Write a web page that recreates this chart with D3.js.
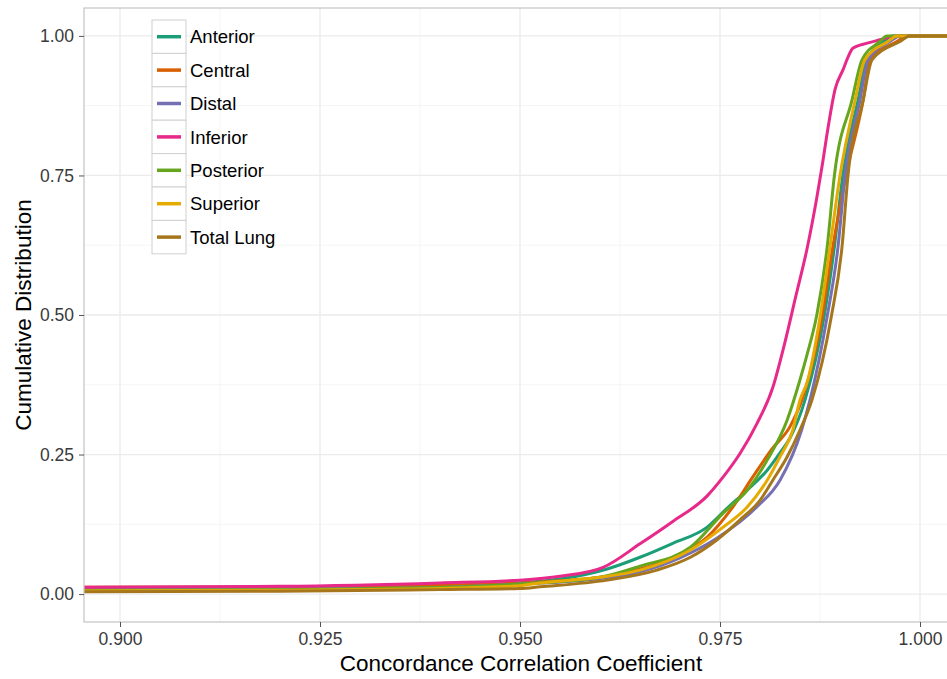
<!DOCTYPE html>
<html>
<head>
<meta charset="utf-8">
<script src="https://cdn.jsdelivr.net/npm/d3@7"></script>
<style>
body { margin: 0; background: #fff; }
text { font-family: "Liberation Sans", Arial, sans-serif; }
</style>
</head>
<body>
<div id="chart"></div>
<script>
const width = 947, height = 679;

// ECDF curves: [ccc, cumulative share]
const anterior = [[0.89,0.008],[0.92,0.01],[0.94,0.014],[0.95,0.02],[0.955,0.027],[0.9609,0.045],[0.965,0.066],[0.9691,0.091],[0.9734,0.12],[0.9759,0.154],[0.9784,0.186],[0.9809,0.222],[0.9825,0.253],[0.9838,0.281],[0.98563,0.348],[0.988,0.496],[0.9893,0.622],[0.99035,0.75],[0.99225,0.885],[0.99335,0.957],[0.9955,0.99],[0.9965,1.0],[1.01,1.0]];
const central = [[0.89,0.012],[0.92,0.013],[0.94,0.016],[0.95,0.02],[0.96,0.03],[0.965,0.045],[0.9691,0.066],[0.9734,0.102],[0.9766,0.156],[0.9791,0.21],[0.9815,0.26],[0.98375,0.3],[0.98525,0.348],[0.98775,0.496],[0.9891,0.622],[0.99075,0.75],[0.9929,0.885],[0.99375,0.957],[0.9971,0.99],[0.99835,1.0],[1.01,1.0]];
const distal = [[0.89,0.007],[0.92,0.009],[0.94,0.012],[0.95,0.018],[0.96,0.028],[0.965,0.04],[0.97,0.065],[0.9746,0.1],[0.9796,0.156],[0.9825,0.204],[0.9852,0.294],[0.98625,0.348],[0.98838,0.496],[0.98975,0.622],[0.99063,0.75],[0.9925,0.885],[0.9935,0.957],[0.99625,0.99],[0.9975,1.0],[1.01,1.0]];
const inferior = [[0.89,0.012],[0.92,0.014],[0.94,0.02],[0.95,0.025],[0.955,0.032],[0.9604,0.048],[0.965,0.09],[0.9691,0.13],[0.9734,0.176],[0.9754,0.21],[0.9775,0.252],[0.9796,0.305],[0.9816,0.37],[0.9831,0.45],[0.9845,0.535],[0.9859,0.62],[0.9871,0.71],[0.9878,0.77],[0.9885,0.835],[0.9894,0.905],[0.9904,0.94],[0.991,0.962],[0.9916,0.978],[0.9934,0.987],[0.995,0.993],[0.997,1.0],[1.01,1.0]];
const posterior = [[0.89,0.006],[0.92,0.008],[0.94,0.012],[0.95,0.018],[0.96,0.03],[0.965,0.05],[0.9713,0.084],[0.9754,0.145],[0.9784,0.186],[0.9809,0.24],[0.9834,0.312],[0.985,0.384],[0.9859,0.43],[0.9871,0.5],[0.9884,0.622],[0.9893,0.75],[0.9915,0.885],[0.99275,0.957],[0.995,0.99],[0.99585,1.0],[1.01,1.0]];
const superior = [[0.89,0.005],[0.92,0.007],[0.94,0.01],[0.95,0.015],[0.9525,0.02],[0.96,0.03],[0.965,0.043],[0.9713,0.079],[0.9754,0.12],[0.9784,0.156],[0.9809,0.204],[0.9825,0.246],[0.9841,0.294],[0.985,0.348],[0.9859,0.38],[0.9875,0.496],[0.98875,0.622],[0.99,0.75],[0.9919,0.885],[0.9931,0.957],[0.996,0.99],[0.9971,1.0],[1.01,1.0]];
const totalLung = [[0.89,0.004],[0.92,0.005],[0.94,0.008],[0.95,0.01],[0.9525,0.013],[0.9609,0.025],[0.9671,0.043],[0.9713,0.066],[0.9746,0.097],[0.9775,0.133],[0.98,0.168],[0.9816,0.204],[0.9834,0.246],[0.985,0.294],[0.9865,0.348],[0.9889,0.496],[0.99025,0.622],[0.991,0.75],[0.9929,0.885],[0.994,0.957],[0.9975,0.99],[0.99875,1.0],[1.01,1.0]];

const regions = ["Anterior", "Central", "Distal", "Inferior", "Posterior", "Superior", "Total Lung"];
const curves = [anterior, central, distal, inferior, posterior, superior, totalLung];
const colors = ["#1B9E77", "#D95F02", "#7570B3", "#E7298A", "#66A61E", "#E6AB02", "#A6761D"];

const xTicks = [0.900, 0.925, 0.950, 0.975, 1.000];
const yTicks = [0.00, 0.25, 0.50, 0.75, 1.00];

const panel = {left: 84, top: 8, right: 956, bottom: 622};

const svg = d3.select("#chart")
	.append("svg")
	.attr("width", width)
	.attr("height", height);

const x = d3.scaleLinear()
	.domain([0.8955, 1.0045])
	.range([panel.left, panel.right]);

const y = d3.scaleLinear()
	.domain([-0.05, 1.05])
	.range([panel.bottom, panel.top]);

svg.append("clipPath")
	.attr("id", "clip")
	.append("rect")
	.attr("x", panel.left)
	.attr("y", panel.top)
	.attr("width", panel.right - panel.left)
	.attr("height", panel.bottom - panel.top);

// grid: minor lines halfway between the major ones
const grid = svg.append("g");
const xMinor = xTicks.slice(0, -1).map((d, i) => (d + xTicks[i + 1]) / 2).concat([1.0125]);
const yMinor = yTicks.slice(0, -1).map((d, i) => (d + yTicks[i + 1]) / 2);

grid.selectAll(".xminor").data(xMinor).enter().append("line")
	.attr("x1", d => x(d)).attr("x2", d => x(d))
	.attr("y1", panel.top).attr("y2", panel.bottom)
	.attr("stroke", "#f5f5f5").attr("stroke-width", 1);
grid.selectAll(".yminor").data(yMinor).enter().append("line")
	.attr("x1", panel.left).attr("x2", panel.right)
	.attr("y1", d => y(d)).attr("y2", d => y(d))
	.attr("stroke", "#f5f5f5").attr("stroke-width", 1);
grid.selectAll(".xmajor").data(xTicks).enter().append("line")
	.attr("x1", d => x(d)).attr("x2", d => x(d))
	.attr("y1", panel.top).attr("y2", panel.bottom)
	.attr("stroke", "#ebebeb").attr("stroke-width", 1.3);
grid.selectAll(".ymajor").data(yTicks).enter().append("line")
	.attr("x1", panel.left).attr("x2", panel.right)
	.attr("y1", d => y(d)).attr("y2", d => y(d))
	.attr("stroke", "#ebebeb").attr("stroke-width", 1.3);

// curves
const line = d3.line()
	.curve(d3.curveMonotoneX)
	.x(d => x(d[0]))
	.y(d => y(d[1]));

svg.append("g")
	.attr("clip-path", "url(#clip)")
	.selectAll(".curve")
	.data(curves)
	.enter()
	.append("path")
	.attr("d", line)
	.attr("fill", "none")
	.attr("stroke", (d, i) => colors[i])
	.attr("stroke-width", 3)
	.attr("stroke-linejoin", "round");

// panel border
svg.append("rect")
	.attr("x", panel.left)
	.attr("y", panel.top)
	.attr("width", panel.right - panel.left)
	.attr("height", panel.bottom - panel.top)
	.attr("fill", "none")
	.attr("stroke", "#c4c4c4")
	.attr("stroke-width", 1.2);

// axes
const xAxis = svg.append("g")
	.attr("transform", `translate(0,${panel.bottom})`)
	.call(d3.axisBottom(x).tickValues(xTicks).tickFormat(d3.format(".3f")).tickSize(5).tickPadding(6));
const yAxis = svg.append("g")
	.attr("transform", `translate(${panel.left},0)`)
	.call(d3.axisLeft(y).tickValues(yTicks).tickFormat(d3.format(".2f")).tickSize(5).tickPadding(5));

[xAxis, yAxis].forEach(a => {
	a.select(".domain").remove();
	a.selectAll(".tick line").attr("stroke", "#555");
	a.selectAll(".tick text")
		.attr("fill", "#3a3a3a")
		.style("font-size", "17.5px")
		.style("font-family", "'Liberation Sans', Arial, sans-serif");
});

svg.append("text")
	.attr("x", 521)
	.attr("y", 671)
	.attr("text-anchor", "middle")
	.style("font-size", "22.5px")
	.text("Concordance Correlation Coefficient");

svg.append("text")
	.attr("transform", `translate(31,${(panel.top + panel.bottom) / 2}) rotate(-90)`)
	.attr("text-anchor", "middle")
	.style("font-size", "22.5px")
	.text("Cumulative Distribution");

// legend
const legend = svg.append("g")
	.attr("transform", "translate(152,20)");
const keyH = 33.4, keyW = 34;

const item = legend.selectAll(".item")
	.data(regions)
	.enter()
	.append("g")
	.attr("transform", (d, i) => `translate(0,${i * keyH})`);

item.append("rect")
	.attr("width", keyW)
	.attr("height", keyH)
	.attr("fill", "#fff")
	.attr("stroke", "#d0d0d0")
	.attr("stroke-width", 1);
item.append("line")
	.attr("x1", 5).attr("x2", keyW - 5)
	.attr("y1", keyH / 2).attr("y2", keyH / 2)
	.attr("stroke", (d, i) => colors[i])
	.attr("stroke-width", 3.5);
item.append("text")
	.attr("x", keyW + 4)
	.attr("y", keyH / 2)
	.attr("dy", "0.36em")
	.style("font-size", "18.5px")
	.text(d => d);
</script>
</body>
</html>
